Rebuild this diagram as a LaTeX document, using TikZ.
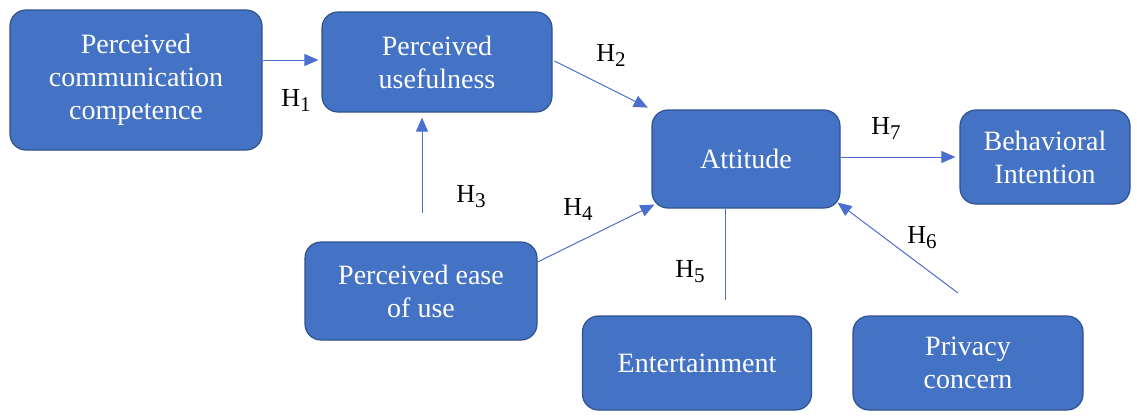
\documentclass[tikz,border=0pt]{standalone}
\usepackage{fontspec}
\setmainfont{Liberation Serif}
\usetikzlibrary{arrows.meta}
\definecolor{boxfill}{HTML}{4472C4}
\definecolor{boxline}{HTML}{2F528F}
\definecolor{linkcol}{HTML}{4A6FD0}
\newcommand{\hyp}[1]{H\raisebox{-5pt}{\fontsize{21}{21}\selectfont #1}}
\tikzset{
  box/.style={draw=boxline, line width=1.2pt, fill=boxfill, rounded corners=16pt,
    text=white, align=center, font=\fontsize{28}{33}\selectfont, inner sep=0pt},
  link/.style={draw=linkcol, line width=1pt, -{Triangle[length=14pt,width=12pt]}},
  plainlink/.style={draw=linkcol, line width=1pt},
  hlabel/.style={font=\fontsize{26}{30}\selectfont, text=black, inner sep=0pt}
}
\begin{document}
\begin{tikzpicture}[x=1pt,y=-1pt]
\useasboundingbox (0,0) rectangle (1137,416);
\node[box, minimum width=252pt, minimum height=140pt] (pcc) at (136,80) {Perceived\\communication\\competence};
\node[box, minimum width=230pt, minimum height=100pt] (pu) at (437,62) {Perceived\\usefulness};
\node[box, minimum width=188pt, minimum height=98pt] (att) at (746,159) {Attitude};
\node[box, minimum width=170pt, minimum height=94pt] (bi) at (1045,157) {Behavioral\\Intention};
\node[box, minimum width=232pt, minimum height=98pt] (peou) at (421,291) {Perceived ease\\of use};
\node[box, minimum width=229pt, minimum height=94pt] (ent) at (697,363) {Entertainment};
\node[box, minimum width=230pt, minimum height=94pt] (pc) at (968,363) {Privacy\\concern};

\coordinate (h3start) at (422,213);
\coordinate (h5end) at (725,300);
\coordinate (h6start) at (958,293);

\draw[link, shorten >=3pt] (pcc.east |- 0,60) -- (pu.west |- 0,60);
\draw[link, shorten <=2pt, shorten >=4pt] (pu.east |- 0,60) -- (att.north west);
\draw[link, shorten >=5pt] (h3start) -- (h3start |- pu.south);
\draw[link] (peou.east |- 0,262) -- ([xshift=3pt,yshift=4pt]att.south west);
\draw[plainlink] (att.south -| h5end) -- (h5end);
\draw[link] (h6start) -- ([xshift=-3pt,yshift=6pt]att.south east);
\draw[link, shorten >=4pt] (att.east |- 0,157) -- (bi.west |- 0,157);

\node[hlabel] (l1) at (296,100) {\hyp{1}};
\node[hlabel] (l2) at (611,55) {\hyp{2}};
\node[hlabel] (l3) at (471,197) {\hyp{3}};
\node[hlabel] (l4) at (578,209) {\hyp{4}};
\node[hlabel] (l5) at (690,272) {\hyp{5}};
\node[hlabel] (l6) at (922,238) {\hyp{6}};
\node[hlabel] (l7) at (886,128) {\hyp{7}};
\end{tikzpicture}
\end{document}
